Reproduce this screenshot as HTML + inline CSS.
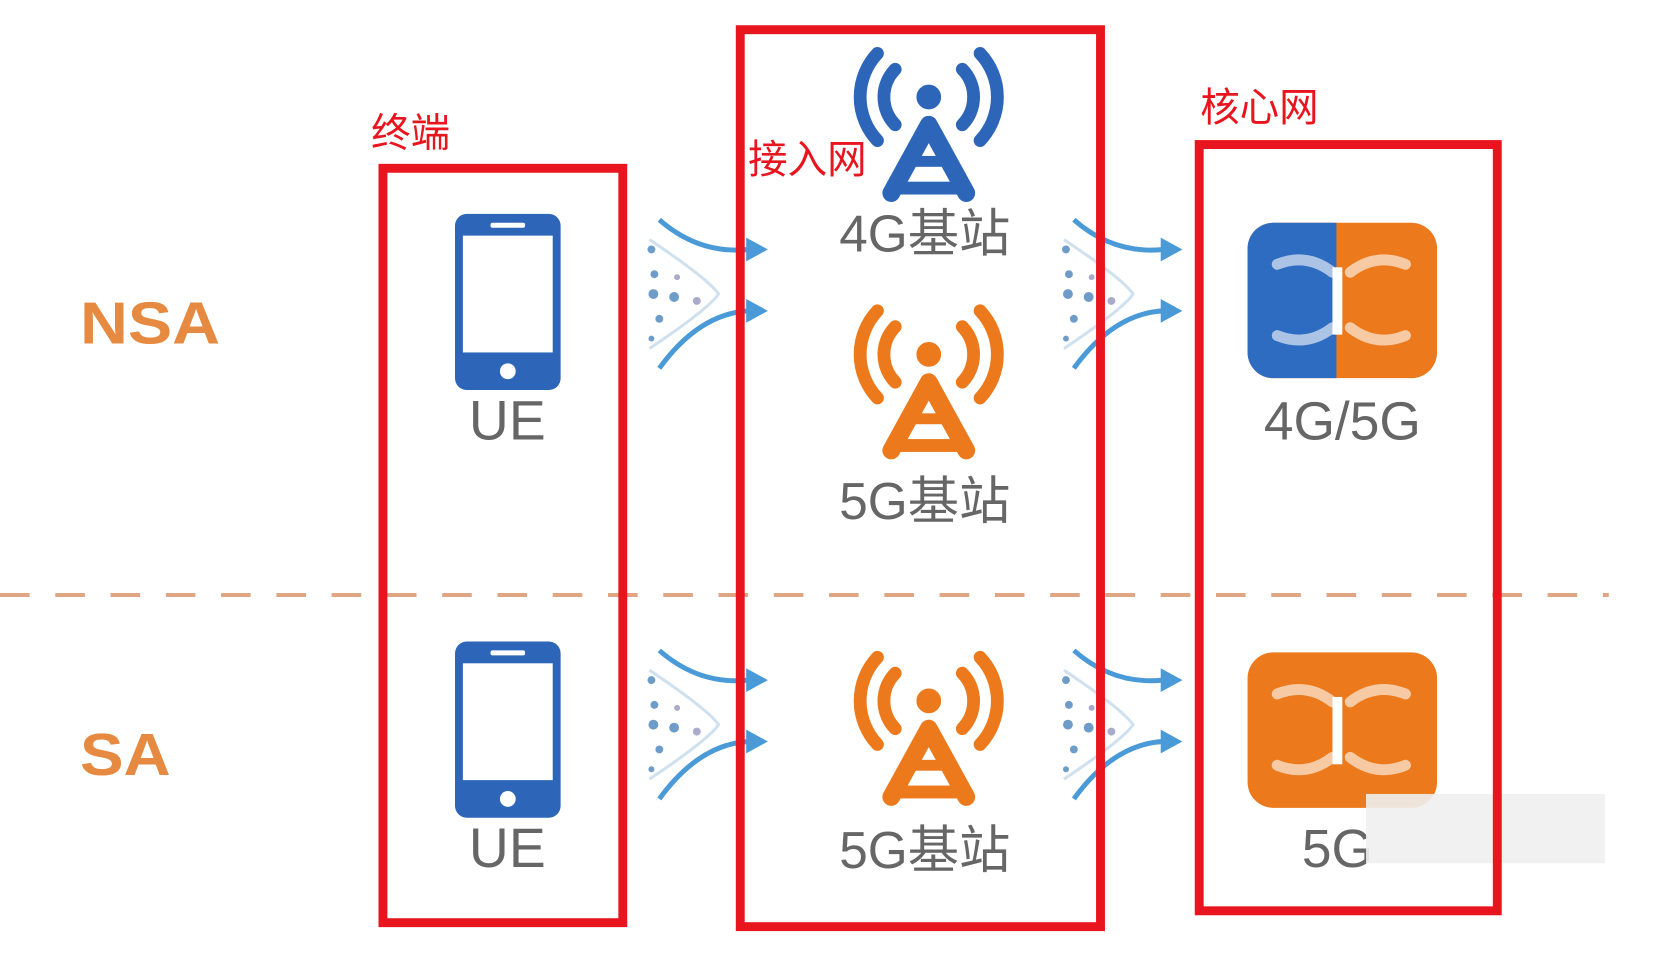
<!DOCTYPE html>
<html><head><meta charset="utf-8"><style>
html,body{margin:0;padding:0;background:#fff;}
svg{display:block;}
</style></head><body>
<svg width="1670" height="955" viewBox="0 0 1670 955" xmlns="http://www.w3.org/2000/svg">
<defs>
<g id="tower">
  <circle cx="0" cy="48" r="12"/>
  <path d="M-34,20 A40,40 0 0 0 -34,76 M34,20 A40,40 0 0 1 34,76" fill="none" stroke-width="13" stroke-linecap="round"/>
  <path d="M-52,4 A64,64 0 0 0 -52,92 M52,4 A64,64 0 0 1 52,92" fill="none" stroke-width="13" stroke-linecap="round"/>
  <path d="M-38,145 L0,76 L38,145" fill="none" stroke-width="18" stroke-linecap="round" stroke-linejoin="round"/>
  <rect x="-22" y="108" width="44" height="10"/>
  <rect x="-36" y="134" width="72" height="12"/>
</g>
<g id="phone">
  <rect x="0" y="0" width="107" height="178" rx="12" fill="#2d66b8"/>
  <rect x="8" y="22" width="91" height="118" fill="#fff"/>
  <rect x="36" y="9" width="35" height="5" rx="2" fill="#fff"/>
  <circle cx="53.5" cy="159" r="8" fill="#fff"/>
</g>
<g id="flow">
  <path d="M20,0 Q60,35 110,30" fill="none" stroke="#4a9ad8" stroke-width="5"/>
  <path d="M108,18 L130,30 L108,42 Z" fill="#4a9ad8"/>
  <path d="M20,150 Q60,95 110,92" fill="none" stroke="#4a9ad8" stroke-width="5"/>
  <path d="M108,80 L130,92 L108,104 Z" fill="#4a9ad8"/>
  <path d="M10,20 Q70,60 80,75 Q70,90 10,130" fill="none" stroke="#cfe0ef" stroke-width="3"/>
  <g fill="#6e9cc8"><circle cx="12" cy="30" r="4"/><circle cx="15" cy="55" r="4"/><circle cx="14" cy="75" r="5"/><circle cx="35" cy="78" r="5"/><circle cx="20" cy="100" r="4"/><circle cx="12" cy="120" r="3"/><circle cx="38" cy="58" r="3" fill="#aac"/><circle cx="58" cy="82" r="4" fill="#aac"/></g>
</g>
<g id="arrows" fill="none" stroke-width="11" stroke-linecap="round" stroke-opacity="0.6" stroke="#fff">
  <path d="M86,50 Q60,30 30,42"/><path d="M104,50 Q130,30 160,42"/>
  <path d="M86,106 Q60,126 30,114"/><path d="M104,106 Q130,126 160,114"/>
</g>
</defs>

<g transform="scale(0.987,0.99)">
<line x1="0" y1="601" x2="1630" y2="601" stroke="#e0a585" stroke-width="4" stroke-dasharray="30,26"/>

<text x="81" y="347" font-family="Liberation Sans, sans-serif" font-weight="bold" font-size="60" fill="#e58a40" textLength="142" lengthAdjust="spacingAndGlyphs">NSA</text>
<text x="81" y="783" font-family="Liberation Sans, sans-serif" font-weight="bold" font-size="60" fill="#e58a40" textLength="92" lengthAdjust="spacingAndGlyphs">SA</text>

<use href="#phone" x="461" y="216"/>
<use href="#phone" x="461" y="648"/>
<text x="514" y="444" text-anchor="middle" font-family="Liberation Sans, sans-serif" font-size="56" fill="#666">UE</text>
<text x="514" y="876" text-anchor="middle" font-family="Liberation Sans, sans-serif" font-size="56" fill="#666">UE</text>

<use href="#flow" x="648" y="222"/>
<use href="#flow" x="1068" y="222"/>
<use href="#flow" x="648" y="657"/>
<use href="#flow" x="1068" y="657"/>

<use href="#tower" x="941" y="50" fill="#2d66b8" stroke="#2d66b8"/>
<use href="#tower" x="941" y="310" fill="#ec7a1c" stroke="#ec7a1c"/>
<use href="#tower" x="941" y="660" fill="#ec7a1c" stroke="#ec7a1c"/>
<g font-family="Liberation Sans, 'Noto Sans CJK SC', sans-serif" font-size="52" fill="#666" text-anchor="middle">
<text x="937" y="254">4G基站</text>
<text x="937" y="524">5G基站</text>
<text x="937" y="877">5G基站</text>
</g>

<rect x="1264" y="225" width="192" height="157" rx="26" fill="#ec7a1c"/>
<path d="M1290,225 H1354 V382 H1290 A26,26 0 0 1 1264,356 V251 A26,26 0 0 1 1290,225 Z" fill="#2d6cc0"/>
<rect x="1350" y="270" width="10" height="68" fill="#fff"/>
<use href="#arrows" x="1264" y="225"/>
<rect x="1264" y="659" width="192" height="157" rx="26" fill="#ec7a1c"/>
<rect x="1350" y="704" width="10" height="68" fill="#fff"/>
<use href="#arrows" x="1264" y="659"/>
<g font-family="Liberation Sans, sans-serif" font-size="54" fill="#666" text-anchor="middle">
<text x="1360" y="444">4G/5G</text>
<text x="1355" y="876">5G</text>
</g>
<rect x="1384" y="802" width="242" height="70" fill="#efefef" opacity="0.9"/>

<g fill="none" stroke="#e8141e" stroke-width="9">
<rect x="388" y="170" width="243" height="762"/>
<rect x="750" y="30" width="365" height="906"/>
<rect x="1215" y="146" width="302" height="774"/>
</g>
<g font-family="'Noto Sans CJK SC', sans-serif" font-size="40" fill="#e8141e">
<text x="376" y="148">终端</text>
<text x="758" y="175">接入网</text>
<text x="1216" y="122">核心网</text>
</g>
</g>
</svg>
</body></html>
